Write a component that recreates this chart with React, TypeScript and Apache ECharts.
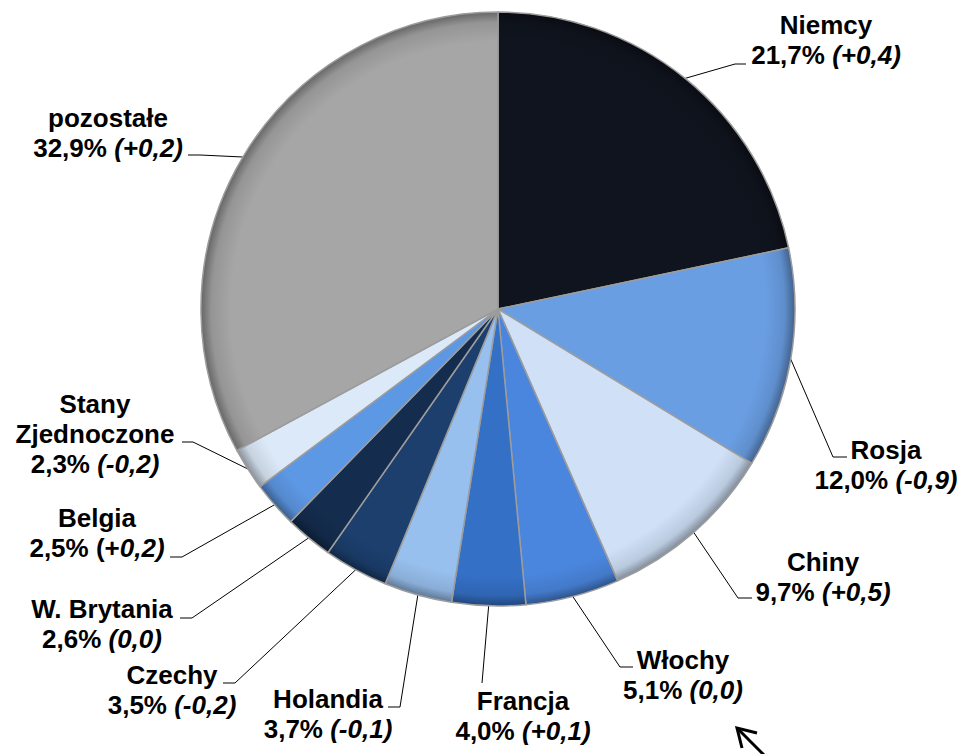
import React, { useEffect, useRef } from "react";
import * as echarts from "echarts";

const categories = ["Niemcy", "Rosja", "Chiny", "Włochy", "Francja", "Holandia", "Czechy", "W. Brytania", "Belgia", "Stany Zjednoczone", "pozostałe"];
const labelNames = ["Niemcy", "Rosja", "Chiny", "Włochy", "Francja", "Holandia", "Czechy", "W. Brytania", "Belgia", "Stany\nZjednoczone", "pozostałe"];
const shares = [21.7, 12.0, 9.7, 5.1, 4.0, 3.7, 3.5, 2.6, 2.5, 2.3, 32.9];
const changes = ["+0,4", "-0,9", "+0,5", "0,0", "+0,1", "-0,1", "-0,2", "0,0", "+0,2", "-0,2", "+0,2"];
// number of leading characters of "(change)" printed upright (the rest is italic)
const uprightChars = [0, 0, 0, 0, 0, 0, 0, 0, 2, 0, 0];
const colors = ["#10141e", "#6a9ee3", "#cfe0f7", "#4a86de", "#3470c6", "#98c0ee", "#1c3f6e", "#142c4e", "#5d98e4", "#dce9f8", "#a6a6a6"];

// label layout (block centre, elbow of guide line, end of guide line)
const labelCenter: number[][] = [[826, 40], [886, 465], [823, 577], [683, 675], [523, 716], [328, 714], [172, 690], [102, 624], [97, 533], [95, 434], [108, 133]];
const labelElbow: number[][] = [[735, 64], [833, 457], [738, 598], [620, 667], [482, 683], [400, 707], [235, 683], [192, 618], [182, 557], [193, 442], [200, 155]];
const labelEnd: number[][] = [[746, 64], [847, 457], [752, 598], [633, 667], [482, 683], [388, 707], [223, 683], [180, 618], [170, 557], [182, 442], [188, 155]];

const CX = 498;
const CY = 309;
const R = 297;
const FONT = "'Liberation Sans', Arial, sans-serif";

function shade(hex: string, f: number): string {
  const n = parseInt(hex.slice(1), 16);
  const r = Math.round(((n >> 16) & 255) * f);
  const g = Math.round(((n >> 8) & 255) * f);
  const b = Math.round((n & 255) * f);
  return `rgb(${Math.min(255, r)},${Math.min(255, g)},${Math.min(255, b)})`;
}

export default function App() {
  const ref = useRef<HTMLDivElement>(null);
  useEffect(() => {
    if (!ref.current) return;
    const chart = echarts.init(ref.current, null, { renderer: "svg" });
    const total = shares.reduce((a, b) => a + b, 0);
    const mids: number[] = [];
    let cum = 0;
    shares.forEach((v) => {
      mids.push(((cum + v / 2) / total) * Math.PI * 2);
      cum += v;
    });
    const fmt = (v: number) => v.toFixed(1).replace(".", ",") + "%";
    const base = { fontFamily: FONT, fontWeight: "bold" as const, fontSize: 26, color: "#000", lineHeight: 30 };
    const data = categories.map((name, i) => {
      const ch = `(${changes[i]})`;
      const up = ch.slice(0, uprightChars[i]);
      const it = ch.slice(uprightChars[i]);
      return {
        name,
        value: shares[i],
        itemStyle: {
          color: {
            type: "radial",
            x: CX,
            y: CY,
            r: R,
            global: true,
            colorStops: [
              { offset: 0, color: colors[i] },
              { offset: 0.9, color: colors[i] },
              { offset: 0.965, color: shade(colors[i], 0.9) },
              { offset: 1, color: shade(colors[i], 0.62) },
            ],
          },
        },
        label: {
          formatter: `{n|${labelNames[i].split("\n").join("}\n{n|")}}\n{v|${fmt(shares[i])} ${up}}{d|${it}}`,
        },
      };
    });
    chart.setOption({
      animation: false,
      series: [
        {
          type: "pie",
          center: [CX, CY],
          radius: R,
          startAngle: 90,
          clockwise: true,
          data,
          itemStyle: { borderColor: "#9c9c9c", borderWidth: 1.5 },
          label: {
            show: true,
            position: "outside",
            overflow: "none",
            align: "center",
            ...base,
            rich: {
              n: { ...base },
              v: { ...base },
              d: { ...base, fontStyle: "italic" },
            },
          },
          labelLine: { show: true, length: 20, length2: 10, lineStyle: { color: "#000", width: 1 } },
          labelLayout: (params: any) => {
            const i = params.dataIndex;
            const a = mids[i];
            const edge = [CX + R * Math.sin(a), CY - R * Math.cos(a)];
            return {
              x: labelCenter[i][0],
              y: labelCenter[i][1],
              align: "center",
              verticalAlign: "middle",
              labelLinePoints: [edge, labelElbow[i], labelEnd[i]],
            };
          },
        },
      ],
      graphic: [
        {
          type: "line",
          shape: { x1: 737, y1: 728, x2: 768, y2: 759 },
          style: { stroke: "#000", lineWidth: 3 },
        },
        {
          type: "polyline",
          shape: { points: [[757, 733], [737, 728], [742, 748]] },
          style: { stroke: "#000", lineWidth: 3, fill: null },
        },
      ],
    });
    return () => chart.dispose();
  }, []);
  return <div ref={ref} style={{ position: "fixed", left: 0, top: 0, width: 965, height: 754, background: "#fff" }} />;
}
